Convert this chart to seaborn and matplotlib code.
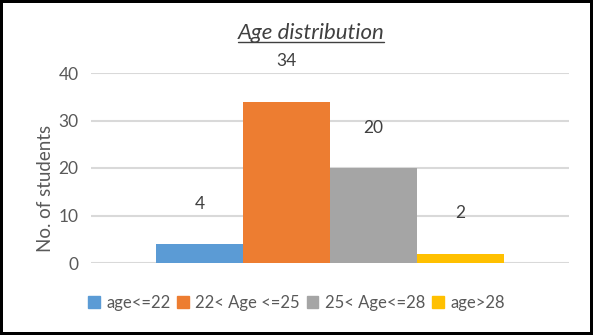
import matplotlib
matplotlib.use("Agg")
import matplotlib.pyplot as plt
import seaborn as sns
import pandas as pd
from matplotlib.lines import Line2D
from matplotlib.patches import Rectangle

categories = ["age<=22", "22< Age <=25", "25< Age<=28", "age>28"]
counts = [4, 34, 20, 2]
colors = ["#5B9BD5", "#ED7D31", "#A5A5A5", "#FFC000"]
yticks = [0, 10, 20, 30, 40]

sns.set_theme(style="white")
plt.rcParams['font.family'] = ['Lato', 'DejaVu Sans']

df = pd.DataFrame({"group": ["all"] * len(categories), "range": categories, "count": counts})

fig = plt.figure(figsize=(5.93, 3.35), dpi=100)
ax = fig.add_axes([91/593, 1-263/335, (569-91)/593, (263-73)/335])

sns.barplot(data=df, x="group", y="count", hue="range", hue_order=categories,
            palette=colors, width=0.726, dodge=True, ax=ax, saturation=1,
            edgecolor="none", linewidth=0, legend=True)

ax.set_ylim(0, 40)
ax.set_xlim(-0.5, 0.5)
ax.set_yticks(yticks)
ax.set_yticklabels([str(t) for t in yticks], fontsize=12.5, color="#595959")
ax.set_xticks([])
ax.set_xlabel("")
ax.set_ylabel("No. of students", fontsize=13.5, color="#595959", labelpad=3)
ax.yaxis.label.set_y(0.39)
ax.tick_params(axis="y", length=0, pad=9)
for s in ax.spines.values():
    s.set_visible(False)
ax.yaxis.grid(True, color="#D9D9D9", linewidth=1.5)
ax.set_axisbelow(True)

for cont in ax.containers:
    for bar in cont:
        h = bar.get_height()
        ax.annotate(f"{int(round(h))}", (bar.get_x() + bar.get_width()/2, h),
                    xytext=(0, 40), textcoords="offset pixels",
                    ha="center", va="center", fontsize=12.5, color="#404040")

handles = [Rectangle((0, 0), 1, 1, color=c) for c in colors]
ax.legend(handles, categories, loc="center", bbox_to_anchor=(0.5, 1-303/335),
          bbox_transform=fig.transFigure, ncol=4, frameon=False, fontsize=12,
          handlelength=0.7, handleheight=0.7, handletextpad=0.4, columnspacing=0.4,
          labelcolor="#595959")

t = fig.text(311/593, 1-33/335, "Age distribution", ha="center", va="center",
             fontsize=16, style="italic", color="#404040")
fig.canvas.draw()
bb = t.get_window_extent(renderer=fig.canvas.get_renderer())
inv = fig.transFigure.inverted()
(x0, y0), (x1, y1) = inv.transform([(bb.x0, bb.y0 + 1), (bb.x1, bb.y0 + 1)])
fig.add_artist(Line2D([x0, x1], [y0, y1], transform=fig.transFigure, color="#404040", linewidth=1))

fig.patch.set_edgecolor("black")
fig.patch.set_linewidth(3)
fig.savefig("out.png", dpi=100, edgecolor=fig.get_edgecolor())
